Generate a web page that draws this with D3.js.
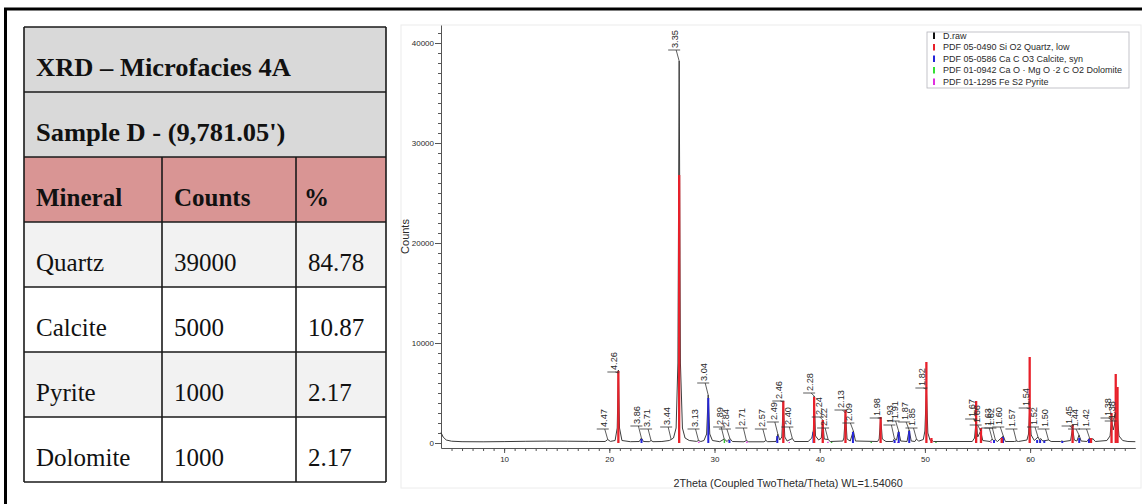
<!DOCTYPE html>
<html lang="en">
<head>
<meta charset="utf-8">
<title>XRD Microfacies 4A</title>
<script src="https://cdn.jsdelivr.net/npm/d3@7"></script>
<style>
  body { margin: 0; background: #fff; }
  svg { display: block; }
  .tbl text { font-family: "Liberation Serif", "Times New Roman", serif; fill: #111; }
  .plot text { font-family: "Liberation Sans", Arial, sans-serif; fill: #2a2a2a; }
  .axis path, .axis line { stroke: #555; }
</style>
</head>
<body>
<script>
// ---- table values ----
var tableTitles = ["XRD \u2013 Microfacies 4A", "Sample D - (9,781.05')"];
var headers = ["Mineral", "Counts", "%"];
var minerals = ["Quartz", "Calcite", "Pyrite", "Dolomite"];
var counts = ["39000", "5000", "1000", "1000"];
var percents = ["84.78", "10.87", "2.17", "2.17"];

// ---- diffractogram (2theta, counts) ----
var rawProfile = [
  [4.0,1050],[4.2,600],[4.5,300],[5,180],[6,130],[8,120],[10,140],[12,170],[14,190],[16,180],[18,160],
  [19.6,150],[19.85,350],[20.1,160],[20.55,250],[20.75,1500],[20.86,7300],[20.97,1500],[21.2,250],
  [22,130],[22.85,150],[23.05,500],[23.25,150],[23.8,130],[23.97,250],[24.15,130],[25,150],
  [25.7,250],[25.88,350],[26.1,500],[26.35,1500],[26.52,8000],[26.64,38200],[26.76,8000],[26.95,1500],
  [27.2,500],[27.6,250],[28.3,160],[28.48,250],[28.7,150],[29.0,250],[29.25,900],[29.4,4800],
  [29.55,900],[29.8,250],[30.5,130],[30.92,400],[31.2,150],[31.46,450],[31.7,150],[32.8,120],
  [33.03,250],[33.25,120],[34.7,120],[34.88,250],[35.05,130],[35.85,150],[36.02,900],[36.2,300],
  [36.4,600],[36.54,4100],[36.68,600],[36.9,200],[37.4,450],[37.6,150],[38.9,150],[39.25,500],
  [39.4,1300],[39.47,4700],[39.6,700],[39.9,300],[40.15,500],[40.29,2300],[40.43,400],[40.8,350],
  [41.0,150],[42.2,200],[42.3,500],[42.45,3000],[42.6,400],[42.9,200],[43.2,1200],[43.4,200],
  [45.5,150],[45.65,400],[45.8,2500],[45.95,400],[46.3,150],[46.95,150],[47.1,450],[47.3,300],
  [47.5,1200],[47.7,200],[48.3,150],[48.5,1300],[48.7,200],[49.05,150],[49.2,400],[49.4,180],
  [49.85,350],[50.0,1200],[50.14,5400],[50.28,1000],[50.5,250],[50.6,350],[50.8,150],[54.5,150],
  [54.72,500],[54.87,2300],[55.02,600],[55.3,1200],[55.5,250],[56.2,150],[56.4,400],[56.55,200],
  [56.7,300],[56.9,150],[57.45,700],[57.65,150],[58.5,150],[58.7,200],[58.9,150],[59.7,300],
  [59.85,900],[59.96,3400],[60.1,800],[60.4,250],[60.75,600],[60.9,300],[61.0,450],[61.2,200],
  [61.75,300],[62.0,150],[62.9,150],[63.0,200],[63.2,150],[63.85,250],[64.04,1500],[64.2,300],
  [64.45,200],[64.65,800],[64.85,200],[65.4,150],[65.65,500],[65.8,200],[65.95,450],[66.2,150],
  [67.3,250],[67.6,700],[67.74,2300],[67.9,1300],[68.02,1800],[68.14,3000],[68.22,2400],[68.3,2600],
  [68.45,700],[68.8,250],[69.3,150],[70,130]
];

// reference patterns (2theta, stick height)
var quartzSticks = [[20.86,7200],[26.64,26800],[36.54,4200],[39.47,4600],[40.29,2300],[42.45,3300],
  [45.79,2600],[50.14,8100],[50.62,500],[54.87,4200],[55.33,1500],[57.3,500],[59.96,8600],[64.04,1800],
  [65.79,500],[67.74,3000],[68.14,6900],[68.31,5600]];
var calciteSticks = [[23.06,400],[29.41,4500],[31.42,300],[35.97,700],[39.41,1100],[43.16,1100],
  [47.12,300],[47.51,1100],[48.51,1200],[56.57,300],[57.42,600],[60.67,300],[60.95,300],[61.35,250],
  [63.06,200],[64.67,500],[65.6,400]];
var dolomiteSticks = [[30.94,350],[41.13,100],[44.9,100],[51.05,100]];
var pyriteSticks = [[28.51,120],[33.08,150],[37.11,100],[40.78,120],[47.42,100],[56.29,150]];

// peak labels: d-spacing, 2theta, label bar height, peak top
var peakLabels = [
  ["4.47",19.85,1400,350],["4.26",20.86,7100,7000],["3.86",23.05,1700,500],["3.71",23.97,1400,250],
  ["3.44",25.88,1600,350],["3.35",26.64,39300,38200],["3.13",28.48,1400,250],["3.04",29.40,6000,4800],
  ["2.89",30.92,1600,400],["2.84",31.46,1400,450],["2.71",33.03,1500,250],["2.57",34.88,1400,250],
  ["2.49",36.02,2100,900],["2.46",36.54,4200,4100],["2.40",37.40,1600,450],["2.28",39.47,5000,4700],
  ["2.24",40.29,2600,2300],["2.22",40.80,1500,350],["2.13",42.45,3300,3000],["2.09",43.20,2000,1200],
  ["1.98",45.80,2500,2500],["1.93",47.10,1800,450],["1.91",47.50,2200,1200],["1.87",48.50,2100,1300],
  ["1.85",49.20,1500,400],["1.82",50.14,5500,5400],["1.67",54.87,2400,2300],["1.66",55.30,1800,1200],
  ["1.63",56.40,1500,400],["1.62",56.70,1500,300],["1.60",57.45,1600,700],["1.57",58.70,1400,200],
  ["1.54",59.96,3500,3400],["1.52",60.75,1600,600],["1.50",61.75,1400,300],["1.45",64.04,1700,1500],
  ["1.44",64.65,1400,800],["1.42",65.65,1400,500],["1.38",67.74,2500,2300],["1.38",68.14,2200,3000]
];

var yTicks = [0, 10000, 20000, 30000, 40000];
var xTicks = [10, 20, 30, 40, 50, 60];
var legendItems = [
  ["D.raw", "#111"],
  ["PDF 05-0490 Si O2 Quartz, low", "#e8202a"],
  ["PDF 05-0586 Ca C O3 Calcite, syn", "#2424d8"],
  ["PDF 01-0942 Ca O \u00b7 Mg O \u00b72 C O2 Dolomite", "#33e033"],
  ["PDF 01-1295 Fe S2 Pyrite", "#e030e0"]
];

var W = 1142, H = 504;
var svg = d3.select("body").append("svg").attr("width", W).attr("height", H);

// outer frame (top + left edges visible)
svg.append("path").attr("d", "M5.5," + (H + 2) + "V9H" + (W + 2))
  .attr("fill", "none").attr("stroke", "#000").attr("stroke-width", 3);

// ---------------- table ----------------
var tbl = svg.append("g").attr("class", "tbl");
var tLeft = 24, colW = [138, 134, 90];
var colX = [tLeft, tLeft + colW[0], tLeft + colW[0] + colW[1], tLeft + colW[0] + colW[1] + colW[2]];
var rowY = d3.scaleBand().domain(d3.range(7)).range([27, 482]);
var rowFill = ["#d9d9d9", "#d9d9d9", "#d99594", "#f2f2f2", "#ffffff", "#f2f2f2", "#ffffff"];

tbl.selectAll("rect.row").data(d3.range(7)).enter().append("rect")
  .attr("x", colX[0]).attr("y", function(d){ return rowY(d); })
  .attr("width", colX[3] - colX[0]).attr("height", rowY.bandwidth())
  .attr("fill", function(d){ return rowFill[d]; });

// horizontal rules
tbl.selectAll("line.h").data(d3.range(8)).enter().append("line")
  .attr("x1", colX[0]).attr("x2", colX[3])
  .attr("y1", function(d){ return d < 7 ? rowY(d) : rowY(6) + rowY.bandwidth(); })
  .attr("y2", function(d){ return d < 7 ? rowY(d) : rowY(6) + rowY.bandwidth(); })
  .attr("stroke", "#1a1a1a").attr("stroke-width", 1.6);
// vertical rules
[0, 3].forEach(function(c){
  tbl.append("line").attr("x1", colX[c]).attr("x2", colX[c])
    .attr("y1", rowY(0)).attr("y2", rowY(6) + rowY.bandwidth())
    .attr("stroke", "#1a1a1a").attr("stroke-width", 1.6);
});
[1, 2].forEach(function(c){
  tbl.append("line").attr("x1", colX[c]).attr("x2", colX[c])
    .attr("y1", rowY(2)).attr("y2", rowY(6) + rowY.bandwidth())
    .attr("stroke", "#1a1a1a").attr("stroke-width", 1.6);
});

var pad = 12, base = 49;
tableTitles.forEach(function(t, i){
  tbl.append("text")
    .attr("transform", "translate(" + (colX[0] + pad) + "," + (rowY(i) + base) + ") scale(1.06,1)")
    .style("font-size", "25px").style("font-weight", "bold").text(t);
});
headers.forEach(function(h, c){
  tbl.append("text").attr("x", colX[c] + pad - (c === 2 ? 4 : 0)).attr("y", rowY(2) + base)
    .style("font-size", "25px").style("font-weight", "bold").text(h);
});
[minerals, counts, percents].forEach(function(col, c){
  tbl.selectAll("text.c" + c).data(col).enter().append("text")
    .attr("x", colX[c] + pad).attr("y", function(d, i){ return rowY(i + 3) + base; })
    .style("font-size", "25px").text(function(d){ return d; });
});

// ---------------- diffractogram ----------------
var plot = svg.append("g").attr("class", "plot");
var x = d3.scaleLinear().domain([4, 70]).range([441, 1135.3]);
var y = d3.scaleLinear().domain([-500, 41800]).range([448, 25]);

plot.append("rect").attr("x", 401).attr("y", 25).attr("width", 740).attr("height", 463)
  .attr("fill", "none").attr("stroke", "#ececec");

// y axis
plot.append("g").attr("class", "axis").attr("transform", "translate(441,0)")
  .call(d3.axisLeft(y).tickValues(d3.range(0, 41001, 1000)).tickSize(3).tickSizeOuter(0).tickFormat(""));
var ya = plot.append("g").attr("class", "axis").attr("transform", "translate(441,0)")
  .call(d3.axisLeft(y).tickValues(yTicks).tickSize(6).tickSizeOuter(0).tickPadding(1).tickFormat(d3.format("d")));
ya.select(".domain").remove();
ya.selectAll("text").style("font-size", "8px").attr("fill", "#2a2a2a");

// x axis
plot.append("g").attr("class", "axis").attr("transform", "translate(0,448)")
  .call(d3.axisBottom(x).tickValues(d3.range(5, 70, 1)).tickSize(3).tickSizeOuter(0).tickFormat(""));
var xa = plot.append("g").attr("class", "axis").attr("transform", "translate(0,448)")
  .call(d3.axisBottom(x).tickValues(xTicks).tickSize(5).tickSizeOuter(0).tickPadding(3));
xa.select(".domain").remove();
xa.selectAll("text").style("font-size", "8px").attr("fill", "#2a2a2a");

plot.append("text").attr("x", (x.range()[0] + x.range()[1]) / 2).attr("y", 487)
  .attr("text-anchor", "middle").style("font-size", "10.8px").text("2Theta (Coupled TwoTheta/Theta) WL=1.54060");
plot.append("text").attr("transform", "translate(409," + (y.range()[0] + y.range()[1]) / 2 + ") rotate(-90)")
  .attr("text-anchor", "middle").style("font-size", "11px").text("Counts");

// raw scan
var line = d3.line().x(function(d){ return x(d[0]); }).y(function(d){ return y(d[1]); });
plot.append("path").datum(rawProfile).attr("d", line)
  .attr("fill", "none").attr("stroke", "#3c3c3c").attr("stroke-width", 1);

// reference sticks
function sticks(data, color, w){
  plot.append("g").selectAll("line").data(data).enter().append("line")
    .attr("x1", function(d){ return x(d[0]); }).attr("x2", function(d){ return x(d[0]); })
    .attr("y1", y(0)).attr("y2", function(d){ return y(d[1]); })
    .attr("stroke", color).attr("stroke-width", w);
}
sticks(pyriteSticks, "#e030e0", 1.4);
sticks(dolomiteSticks, "#33c033", 1.4);
sticks(calciteSticks, "#2424d8", 2);
sticks(quartzSticks, "#e8202a", 2.3);

// peak labels
var lbl = plot.append("g").selectAll("g").data(peakLabels).enter().append("g");
lbl.append("line")
  .attr("x1", function(d){ return x(d[1]) - 11; }).attr("x2", function(d){ return x(d[1]) + 1; })
  .attr("y1", function(d){ return y(d[2]); }).attr("y2", function(d){ return y(d[2]); })
  .attr("stroke", "#333").attr("stroke-width", 0.8);
lbl.append("line")
  .attr("x1", function(d){ return x(d[1]) - 3; }).attr("x2", function(d){ return x(d[1]); })
  .attr("y1", function(d){ return y(d[2]); }).attr("y2", function(d){ return y(d[3]); })
  .attr("stroke", "#333").attr("stroke-width", 0.8);
lbl.append("text")
  .attr("transform", function(d){ return "translate(" + (x(d[1]) - 1) + "," + (y(d[2]) - 2) + ") rotate(-90)"; })
  .style("font-size", "9.2px").text(function(d){ return d[0]; });

// legend
var lg = plot.append("g");
lg.append("rect").attr("x", 927).attr("y", 32).attr("width", 202).attr("height", 56)
  .attr("fill", "#fff").attr("stroke", "#b4b4bc").attr("stroke-width", 0.8);
var li = lg.selectAll("g").data(legendItems).enter().append("g")
  .attr("transform", function(d, i){ return "translate(933," + (38.5 + i * 11.5) + ")"; });
li.append("rect").attr("x", 0).attr("y", -6).attr("width", 2).attr("height", 6.5)
  .attr("fill", function(d){ return d[1]; });
li.append("text").attr("x", 10).attr("y", 0).style("font-size", "9px").text(function(d){ return d[0]; });
</script>
</body>
</html>
